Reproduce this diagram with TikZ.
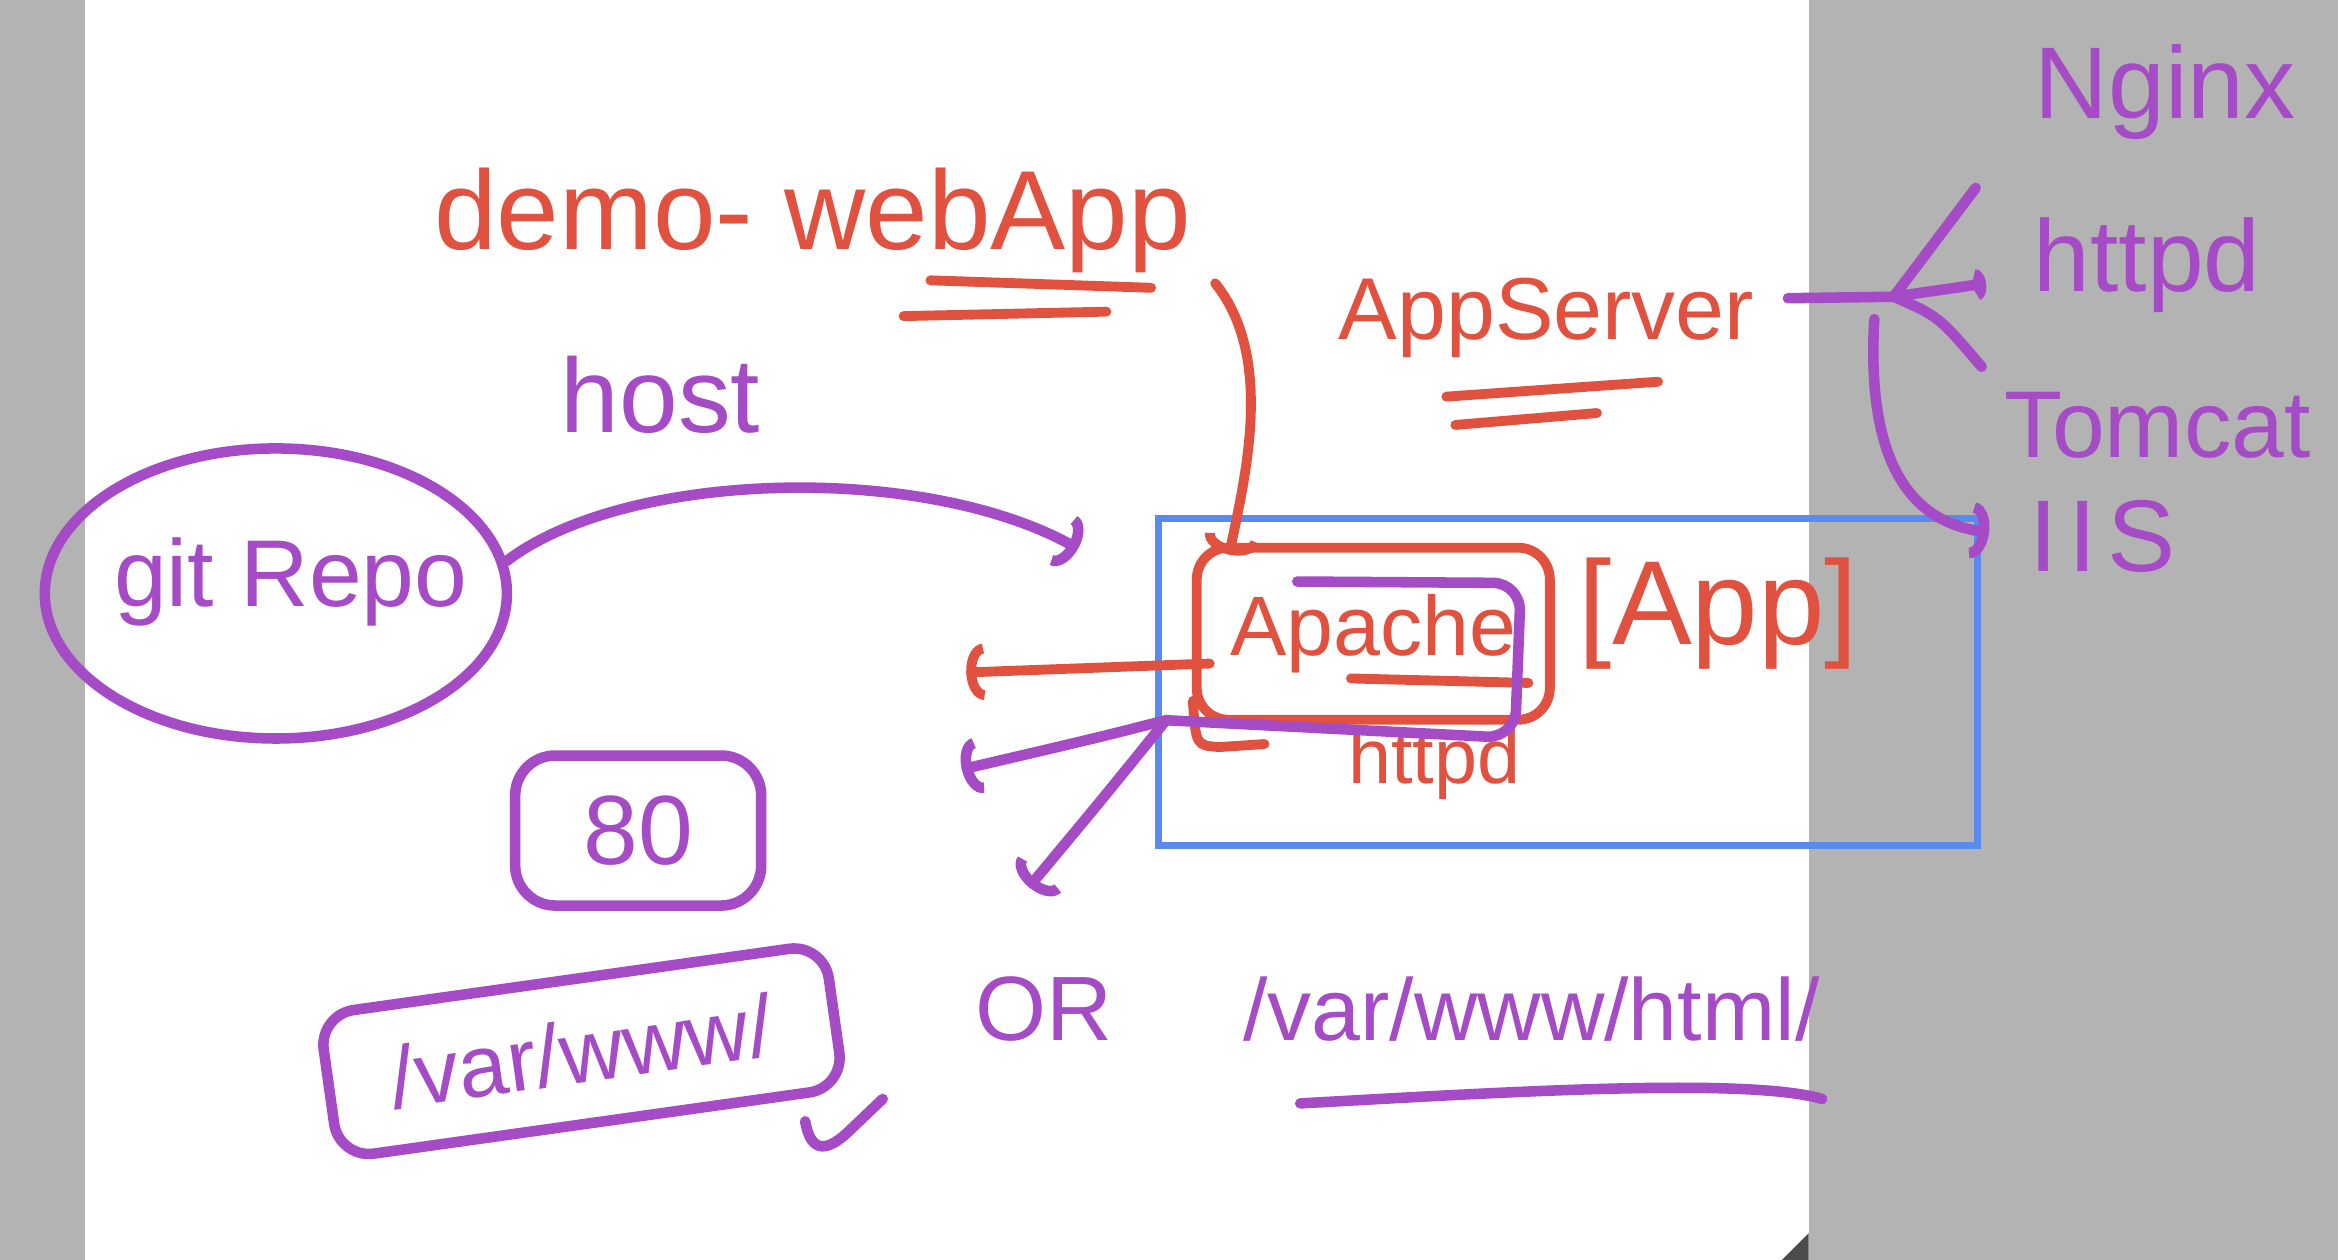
\documentclass[tikz,border=0pt]{standalone}
\usepackage{fontspec}
\setmainfont{Liberation Sans}
\usetikzlibrary{positioning, arrows.meta, shapes.geometric, calc}
\definecolor{penRed}{HTML}{E0513F}
\definecolor{penPurple}{HTML}{A64BC6}
\definecolor{penBlue}{HTML}{5A8AEB}
\definecolor{deskGray}{HTML}{B3B3B3}
\newcommand{\penfs}[1]{\fontsize{#1pt}{#1pt}\selectfont}
\tikzset{
  >={Arc Barb[length=5pt, width=16pt]},
  rline/.style={draw=penRed, line width=2.8pt, line cap=round},
  pline/.style={draw=penPurple, line width=3pt, line cap=round},
  rtext/.style={text=penRed, align=center, inner sep=1pt},
  ptext/.style={text=penPurple, align=center, inner sep=1pt},
  rbox/.style={draw=penRed, line width=2.8pt, rounded corners=9pt},
  pbox/.style={draw=penPurple, line width=3pt, rounded corners=10pt},
  serverframe/.style={draw=penBlue, line width=2pt}
}

\begin{document}
\begin{tikzpicture}[x=0.01491cm, y=-0.01491cm]
    % paper
    \fill[deskGray] (0,0) rectangle (1568,845);
    \fill[white] (57,0) rectangle (1213,845);
    \fill[gray!60!black] (1213,827) -- (1213,845) -- (1195,845) -- cycle;

    \node[rtext, font=\penfs{32}] (demo) at (545,148) {demo- webApp};
    \node[ptext, font=\penfs{30}] (host) at (443,265) {host};
    \node[rtext, font=\penfs{25}] (appsrv) at (1037,213) {AppServer};

    \node[ptext, font=\penfs{29}] (nginx) at (1452,62) {Nginx};
    \node[ptext, font=\penfs{29}] (httpdlist) at (1440,178) {httpd};
    \node[ptext, font=\penfs{27}] (tomcat) at (1447,285) {Tomcat};
    \node[ptext, font=\penfs{29}] (iis) at (1410,360) {I\kern3pt I\kern3pt S};

    \node[serverframe, minimum width=8.19cm, minimum height=3.27cm] (webserver) at (1051.5,457.5) {};
    \node[rbox, rtext, font=\penfs{24}, minimum width=3.53cm, minimum height=1.72cm] (apache) at (921,425) {Apache};
    \node[rtext, font=\penfs{34}, right=0.2cm of apache, yshift=0.2cm] (app) {[App]};
    \node[rtext, font=\penfs{22}] (apachehttpd) at (962,512) {httpd};

    \node[ellipse, draw=penPurple, line width=3pt, inner sep=0pt, minimum width=4.62cm, minimum height=2.9cm] (gitrepo) at (185,398) {};
    \node[ptext, font=\penfs{27}] (gitlabel) at (195,390) {git Repo};
    \node[pbox, ptext, font=\penfs{28}, minimum width=2.46cm, minimum height=1.5cm, rounded corners=0.4cm] (port) at (428,557) {80};
    \node[pbox, ptext, font=\penfs{25}, rotate=8, minimum width=5.1cm, minimum height=1.45cm] (docroot) at (390,705) {/var/www/};
    \node[ptext, font=\penfs{26}] (orword) at (700,677) {OR};
    \node[ptext, font=\penfs{25}] (htmlroot) at (1027,677) {/var/www/html/};

    \coordinate (webend) at (815,190);
    \coordinate (repoend) at (723,368);
    \coordinate (redleft) at (648,451);
    \coordinate (split) at (782,483);
    \coordinate (purpleft) at (645,516);
    \coordinate (purpdown) at (690,595);
    \coordinate (fan) at (1270,199);
    \coordinate (fanlow) at (1257,214);
    \coordinate (toNginx) at (1325,126);
    \coordinate (toHttpd) at (1332,190);
    \coordinate (toTomcat) at (1329,246);
    \coordinate (toIIS) at (1334,357);

    % red strokes
    \draw[rline] (624,188) -- (772,193);
    \draw[rline] (606,212) -- (742,209);
    \draw[rline] (970,266) -- (1112,256);
    \draw[rline] (976,285) -- (1071,277);
    \draw[rline] (906,455) -- (1025,458);
    \draw[rline] (800,470) .. controls (802,500) .. (818,501) -- (848,499);
    \draw[rline, ->] (webend) .. controls (855,240) and (835,320) .. ($(apache.north west)+(25,8)$);
    \draw[rline, ->] ($(apache.west)+(12,20)$) -- (redleft);

    % purple strokes
    \draw[pline, ->] (gitrepo.8) .. controls (420,315) and (620,310) .. (repoend);
    \draw[pline, rounded corners=8pt] (870,390) -- (1020,391) -- (1016,495) -- (split);
    \draw[pline, ->] (split) .. controls (735,495) .. (purpleft);
    \draw[pline, ->] (split) .. controls (740,535) .. (purpdown);
    \draw[pline] (540,752) .. controls (544,775) and (556,772) .. (571,757) -- (592,737);
    \draw[pline] (872,740) .. controls (1000,733) and (1170,722) .. (1222,737);

    % server list
    \draw[pline] ($(appsrv.east)+(20,-13)$) -- (fan);
    \draw[pline] (fan) -- (toNginx);
    \draw[pline, -{Arc Barb[length=3pt, width=9pt]}] (fan) -- (toHttpd);
    \draw[pline] (fan) .. controls (1300,212) .. (toTomcat);
    \draw[pline, ->] (fanlow) .. controls (1252,300) and (1275,350) .. (toIIS);
\end{tikzpicture}
\end{document}
